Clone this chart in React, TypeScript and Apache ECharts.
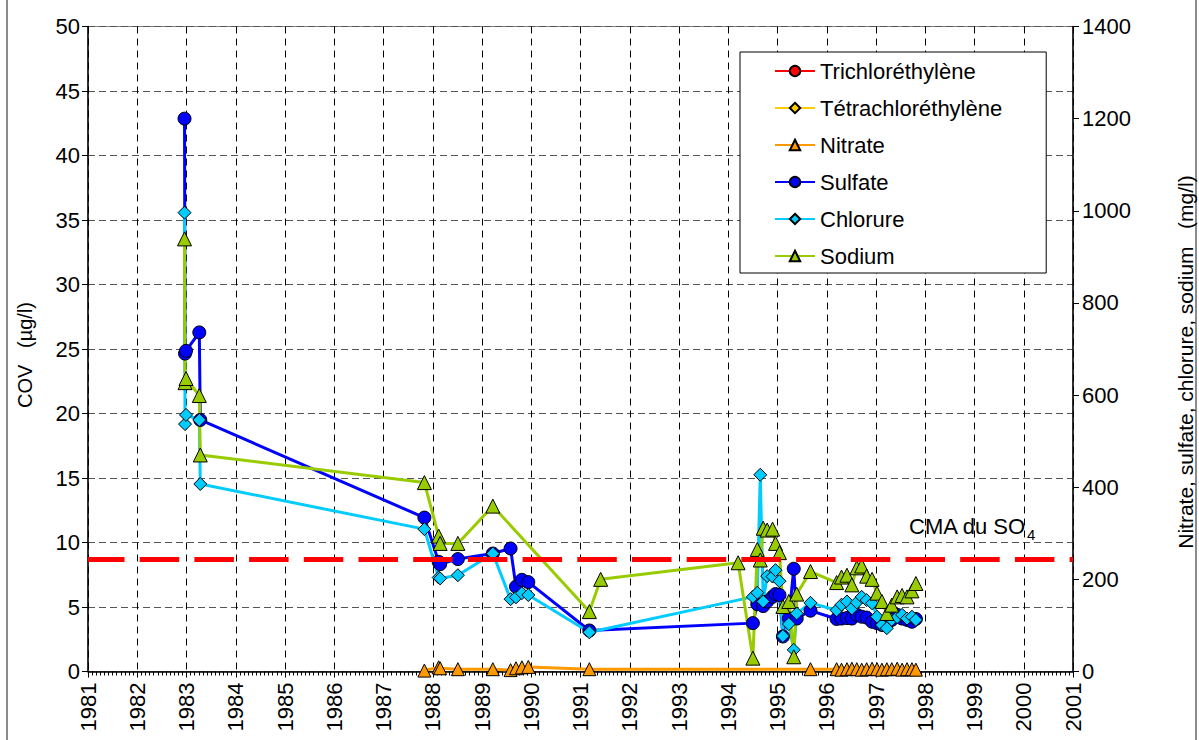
import React, { useEffect, useRef } from "react";
import * as echarts from "echarts";

const FONT = "'Liberation Sans', Arial, sans-serif";

// Axis ticks
const xMin = 1981;
const xMax = 2001;
const leftMax = 50;
const rightMax = 1400;
const cmaSulfate = 243; // mg/l, dashed red line

// Series names
const seriesNames = [
  "Trichloréthylène",
  "Tétrachloréthylène",
  "Nitrate",
  "Sulfate",
  "Chlorure",
  "Sodium",
];

// COV series (µg/l) – no visible measurements
const tceDates: number[] = [];
const tceValues: number[] = [];
const pceDates: number[] = [];
const pceValues: number[] = [];

const clusterDates = [
  1996.2, 1996.3, 1996.41, 1996.51, 1996.61, 1996.71, 1996.81, 1996.92, 1997.02,
  1997.12, 1997.22, 1997.32, 1997.43, 1997.53, 1997.63, 1997.73, 1997.81,
];

// Sulfate (mg/l)
const sulfateDates = [
  1982.96, 1982.97, 1982.99, 1983.26, 1983.28, 1987.83, 1988.12, 1988.15, 1988.51,
  1989.22, 1989.58, 1989.69, 1989.81, 1989.94, 1991.18, 1994.5, 1994.59, 1994.71,
  1994.79, 1994.9, 1994.96, 1995.04, 1995.11, 1995.23, 1995.33, 1995.39, 1995.67,
  ...clusterDates,
];
const sulfateValues = [
  1200, 690, 696, 736, 546, 334, 238, 233, 244, 256, 267, 184, 199, 194, 89, 105, 146,
  142, 152, 162, 168, 166, 76, 115, 223, 115, 132,
  114, 115, 116, 115, 123, 119, 117, 108, 105, 101, 104, 112, 123, 115, 112, 108, 114,
];

// Chlorure (mg/l)
const chlorureDates = [
  1982.96, 1982.97, 1982.99, 1983.26, 1983.28, 1987.83, 1988.12, 1988.15, 1988.51,
  1989.22, 1989.58, 1989.69, 1989.81, 1989.94, 1991.18, 1994.5, 1994.59, 1994.65,
  1994.71, 1994.79, 1994.9, 1994.96, 1995.04, 1995.11, 1995.23, 1995.33, 1995.39,
  1995.67, ...clusterDates,
];
const chlorureValues = [
  996, 537, 557, 546, 407, 309, 204, 202, 209, 256, 157, 161, 170, 166, 85, 162, 171,
  427, 152, 207, 206, 220, 196, 77, 103, 47, 126, 149,
  133, 145, 152, 137, 150, 162, 155, 148, 119, 101, 94, 112, 118, 123, 115, 119, 112,
];

// Sodium (mg/l)
const sodiumDates = [
  1982.96, 1982.97, 1982.99, 1983.26, 1983.28, 1987.83, 1988.12, 1988.15, 1988.51,
  1989.22, 1991.18, 1991.41, 1994.2, 1994.5, 1994.59, 1994.65, 1994.71, 1994.79,
  1994.9, 1994.96, 1995.04, 1995.11, 1995.23, 1995.33, 1995.39, 1995.67, ...clusterDates,
];
const sodiumValues = [
  939, 627, 636, 599, 470, 410, 294, 278, 278, 359, 130, 200, 236, 29, 265, 242, 311,
  307, 309, 278, 258, 141, 152, 32, 168, 217,
  193, 205, 209, 188, 225, 229, 207, 200, 170, 152, 126, 144, 162, 165, 162, 175, 191,
];

// Nitrate (mg/l)
const nitrateDates = [
  1987.83, 1988.12, 1988.15, 1988.51, 1989.22, 1989.58, 1989.69, 1989.81, 1989.94,
  1991.18, 1995.67, ...clusterDates,
];
const nitrateValues = [
  2, 9, 7, 5, 5, 3, 7, 9, 10, 5, 5,
  5, 4, 5, 6, 5, 4, 5, 6, 5, 4, 5, 5, 6, 4, 5, 5, 4,
];

const zip = (xs: number[], ys: number[]) => xs.map((x, i) => [x, ys[i]]);

function lineSeries(
  name: string,
  color: string,
  symbol: string,
  size: number,
  data: number[][],
  yAxisIndex: number,
  extra: any = {}
) {
  return {
    name,
    type: "line",
    yAxisIndex,
    data,
    symbol,
    symbolSize: size,
    connectNulls: true,
    lineStyle: { color, width: 3 },
    itemStyle: { color, borderColor: "#000", borderWidth: 1 },
    emphasis: { disabled: true },
    ...extra,
  };
}

export default function App() {
  const ref = useRef<HTMLDivElement>(null);

  useEffect(() => {
    if (!ref.current) return;
    const chart = echarts.init(ref.current, undefined, { renderer: "svg" });

    const option: any = {
      animation: false,
      textStyle: { fontFamily: FONT },
      grid: {
        left: 88,
        right: 126,
        top: 26.5,
        bottom: 68.5,
        show: true,
        borderColor: "#808080",
        borderWidth: 1,
      },
      xAxis: {
        type: "value",
        min: xMin,
        max: xMax,
        interval: 1,
        axisLine: { lineStyle: { color: "#000", width: 1.5 } },
        axisTick: { length: 6, lineStyle: { color: "#000" } },
        minorTick: { show: true, splitNumber: 12, length: 4, lineStyle: { color: "#000" } },
        axisLabel: {
          rotate: 90,
          fontSize: 22,
          color: "#000",
          margin: 11,
          fontFamily: FONT,
          formatter: (v: number) => String(v),
        },
        splitLine: { show: true, lineStyle: { color: "#000", type: [7, 5], width: 1 } },
      },
      yAxis: [
        {
          type: "value",
          min: 0,
          max: leftMax,
          interval: 5,
          position: "left",
          axisLine: { show: true, lineStyle: { color: "#000", width: 1.5 } },
          axisTick: { show: true, length: 6, lineStyle: { color: "#000" } },
          axisLabel: {
            fontSize: 22,
            color: "#000",
            margin: 8,
            fontFamily: FONT,
            formatter: (v: number) => String(v),
          },
          splitLine: { show: true, lineStyle: { color: "#555", type: [7, 4], width: 1 } },
        },
        {
          type: "value",
          min: 0,
          max: rightMax,
          interval: 200,
          position: "right",
          axisLine: { show: true, lineStyle: { color: "#000", width: 1.5 } },
          axisTick: { show: true, length: 6, lineStyle: { color: "#000" } },
          axisLabel: {
            fontSize: 22,
            color: "#000",
            margin: 9,
            fontFamily: FONT,
            formatter: (v: number) => String(v),
          },
          splitLine: { show: false },
        },
      ],
      legend: {
        orient: "vertical",
        left: 740,
        top: 52,
        padding: [8, 44, 6, 34],
        itemGap: 15,
        itemWidth: 40,
        itemHeight: 13,
        backgroundColor: "#fff",
        borderColor: "#000",
        borderWidth: 1,
        textStyle: { fontSize: 22, color: "#000", fontFamily: FONT },
        data: seriesNames,
      },
      series: [
        lineSeries(seriesNames[0], "#FF0000", "circle", 12, zip(tceDates, tceValues), 0),
        lineSeries(seriesNames[1], "#FFCC00", "diamond", 12, zip(pceDates, pceValues), 0),
        lineSeries(seriesNames[2], "#FF9900", "triangle", 13, zip(nitrateDates, nitrateValues), 1),
        lineSeries(seriesNames[3], "#0000FF", "circle", 13, zip(sulfateDates, sulfateValues), 1, {
          markLine: {
            silent: true,
            symbol: "none",
            label: { show: false },
            lineStyle: { color: "#FF0000", width: 5, type: [39.5, 15.2], dashOffset: 3.3 },
            data: [{ yAxis: cmaSulfate }],
          },
        }),
        lineSeries(seriesNames[4], "#00CCFF", "diamond", 13, zip(chlorureDates, chlorureValues), 1),
        lineSeries(seriesNames[5], "#99CC00", "triangle", 14, zip(sodiumDates, sodiumValues), 1),
      ],
      graphic: [
        {
          type: "rect",
          silent: true,
          shape: { x: 7, y: -5, width: 1189, height: 760 },
          style: { fill: "none", stroke: "#666", lineWidth: 1.5 },
        },
        {
          type: "text",
          x: 25,
          y: 355,
          rotation: Math.PI / 2,
          style: {
            text: "COV   (µg/l)",
            fontSize: 20,
            fontFamily: FONT,
            fill: "#000",
            align: "center",
            verticalAlign: "middle",
          },
        },
        {
          type: "text",
          x: 1185,
          y: 362,
          rotation: Math.PI / 2,
          style: {
            text: "Nitrate, sulfate, chlorure, sodium   (mg/l)",
            fontSize: 21,
            fontFamily: FONT,
            fill: "#000",
            align: "center",
            verticalAlign: "middle",
          },
        },
        {
          type: "text",
          x: 909,
          y: 526,
          style: {
            text: "CMA du SO",
            fontSize: 22,
            fontFamily: FONT,
            fill: "#000",
            align: "left",
            verticalAlign: "middle",
          },
        },
        {
          type: "text",
          x: 1027,
          y: 534,
          style: {
            text: "4",
            fontSize: 15,
            fontFamily: FONT,
            fill: "#000",
            align: "left",
            verticalAlign: "middle",
          },
        },
      ],
    };

    chart.setOption(option);
    return () => chart.dispose();
  }, []);

  return (
    <div
      ref={ref}
      style={{ position: "absolute", left: 0, top: 0, width: 1199, height: 740, background: "#fff" }}
    />
  );
}
